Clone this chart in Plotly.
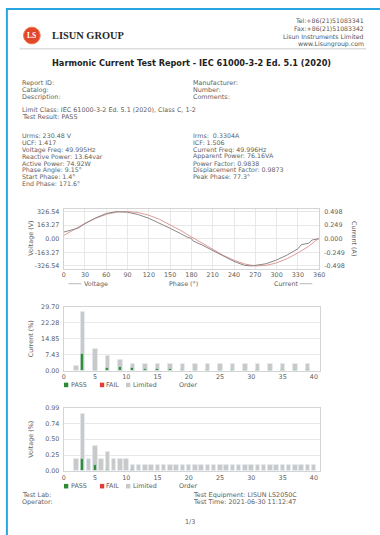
import plotly.graph_objects as go

W, H = 380, 535

# ---------------- report data ----------------
title_text = "Harmonic Current Test Report - IEC 61000-3-2 Ed. 5.1 (2020)"
contact_lines = ["Tel:+86(21)51083341", "Fax:+86(21)51083342",
                 "Lisun Instruments Limited", "www.Lisungroup.com"]
info_left = ["Report ID:", "Catalog:", "Description:"]
info_right = ["Manufacturer:", "Number:", "Comments:"]
limit_lines = ["Limit Class: IEC 61000-3-2 Ed. 5.1 (2020), Class C, 1-2",
               "Test Result: PASS"]
meas_left = ["Urms: 230.48 V", "UCF: 1.417", "Voltage Freq: 49.995Hz",
             "Reactive Power: 13.64var", "Active Power: 74.92W",
             "Phase Angle: 9.15°", "Start Phase: 1.4°", "End Phase: 171.6°"]
meas_right = ["Irms:  0.3304A", "ICF: 1.506", "Current Freq: 49.996Hz",
              "Apparent Power: 76.16VA", "Power Factor: 0.9838",
              "Displacement Factor: 0.9873", "Peak Phase: 77.3°"]
footer_left = ["Test Lab:", "Operator:"]
footer_right = ["Test Equipment: LISUN LS2050C", "Test Time: 2021-06-30 11:12:47"]

# ---------------- waveform (one cycle) ----------------
v_ticks = [-326.54, -163.27, 0.00, 163.27, 326.54]
i_ticks = [-0.498, -0.249, 0.000, 0.249, 0.498]
phase_v = [0, 15, 30, 45, 60, 75, 90, 105, 120, 135, 150, 165, 180,
           195, 210, 225, 240, 255, 270, 285, 300, 315, 330, 345, 360]
voltage_v = [38, 115, 185, 245, 292, 320, 326, 314, 282, 233, 170, 98, 22,
             -55, -130, -200, -258, -303, -326, -320, -290, -238, -170, -92, 10]
phase_i = [0, 10, 15, 20, 30, 45, 60, 75, 90, 105, 120, 135, 150, 165, 175,
           180, 182, 195, 210, 225, 240, 255, 265, 285, 300, 315, 330, 335,
           345, 350, 360]
current_a = [0.122, 0.153, 0.180, 0.191, 0.275, 0.381, 0.462, 0.497, 0.485,
             0.442, 0.374, 0.290, 0.191, 0.092, 0.023, 0.008, -0.038, -0.114,
             -0.214, -0.313, -0.415, -0.488, -0.497, -0.458, -0.389, -0.297,
             -0.183, -0.107, -0.084, -0.023, 0.000]

# ---------------- current harmonics (%) ----------------
cur_orders = [2, 3, 5, 7, 9, 11, 13, 15, 17, 19, 21, 23, 25, 27, 29, 31, 33, 35, 37, 39]
cur_limit = [2.2, 27.4, 10.2, 7.1, 5.2, 3.2, 3.2, 3.2, 3.2, 3.2, 3.2, 3.2,
             3.2, 3.2, 3.2, 3.2, 3.2, 3.2, 3.2, 3.2]
cur_pass = [0.1, 7.9, 0.6, 1.3, 1.7, 1.4, 0.9, 0.8, 0.8, 0.6, 0.5, 0.5,
            0.5, 0.5, 0.5, 0.4, 0.4, 0.4, 0.3, 0.3]
cur_fail = [0] * len(cur_orders)
cur_ticks = [0.00, 7.43, 14.85, 22.28, 29.70]

# ---------------- voltage harmonics (%) ----------------
volt_orders = list(range(2, 41))
volt_limit = [0.2, 0.9, 0.2, 0.4, 0.2, 0.3, 0.2, 0.2, 0.2] + [0.1] * 30
volt_pass = [0.005, 0.19, 0.003, 0.10, 0.003, 0.015, 0.003, 0.012, 0.003,
             0.015, 0.003, 0.012, 0.003, 0.010, 0.003, 0.010, 0.003, 0.010,
             0.003, 0.010, 0.003, 0.012, 0.003, 0.010, 0.003, 0.012, 0.003,
             0.012, 0.003, 0.010, 0.003, 0.010, 0.003, 0.010, 0.003, 0.010,
             0.003, 0.010, 0.003]
volt_fail = [0] * len(volt_orders)
volt_ticks = [0.00, 0.25, 0.50, 0.74, 0.99]

# ---------------- styling ----------------
FONT = "DejaVu Sans"
TXT = "#5e5e5e"
GRID = "#e8e8e8"
FRAME = "#d4d4d4"
C_PASS = "#2f8a35"
C_FAIL = "#e53935"
C_LIM = "#c9c9c9"
C_VOLT = "#dd9a9a"
C_CURR = "#8d8585"


def px(x):
    return x / W


def py(y):
    return 1 - y / H


annotations = []
shapes = []


def text(x, y, s, size=6.4, color=TXT, anchor="left", family=FONT, angle=0):
    annotations.append(dict(
        x=px(x), y=py(y), xref="paper", yref="paper", text=s, showarrow=False,
        xanchor=anchor, yanchor="middle", textangle=angle, borderpad=0,
        font=dict(family=family, size=size, color=color)))


def rect(x0, y0, x1, y1, fill=None, line=None, lw=0):
    shapes.append(dict(type="rect", xref="paper", yref="paper",
                       x0=px(x0), x1=px(x1), y0=py(y0), y1=py(y1),
                       fillcolor=fill, line=dict(color=line, width=lw),
                       layer="above"))


def hline(x0, x1, y, color, lw=1):
    shapes.append(dict(type="line", xref="paper", yref="paper",
                       x0=px(x0), x1=px(x1), y0=py(y), y1=py(y),
                       line=dict(color=color, width=lw)))


# page border and header
shapes.append(dict(type="rect", xref="paper", yref="paper",
                   x0=px(5), y0=py(5), x1=1.1, y1=-0.1,
                   line=dict(color="#27a6e2", width=2), fillcolor="rgba(0,0,0,0)"))
shapes.append(dict(type="circle", xref="paper", yref="paper",
                   x0=px(22), x1=px(39), y0=py(23.5), y1=py(40.5),
                   fillcolor="#e2472a", line=dict(color="#f07a4a", width=1)))
text(30.5, 32, "<b>LS</b>", size=7.5, color="white", anchor="center", family="Liberation Serif")
text(50, 32, "<b>LISUN GROUP</b>", size=10.4, color="#2a2a2a", family="Liberation Serif")
for i, s in enumerate(contact_lines):
    text(371, 17 + i * 8.0, s, size=6.2, color="#555555", anchor="right")
hline(18, 372, 45.5, "#cccccc", 1)
text(194, 59.5, "<b>" + title_text + "</b>", size=8.2, color="#1e1e1e", anchor="center")

for i, s in enumerate(info_left):
    text(19, 80 + i * 7.2, s)
for i, s in enumerate(info_right):
    text(194, 80 + i * 7.2, s)
for i, s in enumerate(limit_lines):
    text(19, 107.7 + i * 6.9, s)
for i, s in enumerate(meas_left):
    text(19, 134 + i * 6.9, s, size=6.3)
for i, s in enumerate(meas_right):
    text(194, 134 + i * 6.9, s, size=6.3)

# waveform axis titles and legend row
text(30, 238, "Voltage (V)", size=6.4, anchor="center", angle=-90)
text(359, 238, "Current (A)", size=6.4, anchor="center", angle=90)
hline(68, 81, 284, "#b9b9b9", 1)
text(83, 284, "Voltage", size=6.4)
text(185, 284, "Phase (°)", size=6.4, anchor="center")
text(277, 284, "Current", size=6.4)
hline(304, 317, 284, "#b9b9b9", 1)

# harmonic chart titles and legend rows
text(30, 340, "Current (%)", size=6.4, anchor="center", angle=-90)
text(30, 442, "Voltage (%)", size=6.4, anchor="center", angle=-90)
for ly in (386.7, 489.5):
    rect(63.3, ly - 2.3, 67.7, ly + 2.3, fill=C_PASS)
    text(69, ly, "PASS", size=6.4)
    rect(100, ly - 2.3, 104.4, ly + 2.3, fill=C_FAIL)
    text(105.7, ly, "FAIL", size=6.4)
    rect(126.7, ly - 2.3, 131.1, ly + 2.3, fill=C_LIM)
    text(132.3, ly, "Limited", size=6.4)
    text(191, ly, "Order", size=6.4, anchor="center")

# footer
for i, s in enumerate(footer_left):
    text(19, 498.3 + i * 7.0, s)
for i, s in enumerate(footer_right):
    text(194, 498.3 + i * 7.0, s)
text(192, 526, "1/3", size=6.4, anchor="center")

fig = go.Figure()

# waveform traces
fig.add_trace(go.Scatter(x=phase_v, y=voltage_v, mode="lines", name="Voltage",
                         line=dict(color=C_VOLT, width=1), xaxis="x", yaxis="y"))
fig.add_trace(go.Scatter(x=phase_i, y=current_a, mode="lines", name="Current",
                         line=dict(color=C_CURR, width=1), xaxis="x", yaxis="y2"))

# current harmonic bars
fig.add_trace(go.Bar(x=cur_orders, y=cur_limit, width=0.72, marker_color=C_LIM,
                     name="Limited", xaxis="x2", yaxis="y3"))
fig.add_trace(go.Bar(x=cur_orders, y=cur_pass, width=0.5, marker_color=C_PASS,
                     name="PASS", xaxis="x2", yaxis="y3"))
fig.add_trace(go.Bar(x=cur_orders, y=cur_fail, width=0.5, marker_color=C_FAIL,
                     name="FAIL", xaxis="x2", yaxis="y3"))

# voltage harmonic bars
fig.add_trace(go.Bar(x=volt_orders, y=volt_limit, width=0.72, marker_color=C_LIM,
                     name="Limited", xaxis="x3", yaxis="y4"))
fig.add_trace(go.Bar(x=volt_orders, y=volt_pass, width=0.5, marker_color=C_PASS,
                     name="PASS", xaxis="x3", yaxis="y4"))
fig.add_trace(go.Bar(x=volt_orders, y=volt_fail, width=0.5, marker_color=C_FAIL,
                     name="FAIL", xaxis="x3", yaxis="y4"))

tickfont = dict(family=FONT, size=6.4, color=TXT)
x_dom = [px(63), px(325)]
common = dict(showline=True, mirror=True, linecolor=FRAME, linewidth=1,
              ticks="", tickfont=tickfont, zeroline=False, fixedrange=True)

fig.update_layout(
    width=W, height=H, autosize=False,
    margin=dict(l=0, r=0, t=0, b=0),
    paper_bgcolor="white", plot_bgcolor="white",
    showlegend=False, barmode="overlay", bargap=0,
    annotations=annotations, shapes=shapes,
    xaxis=dict(domain=[px(63), px(324)], range=[0, 360], tickvals=list(range(0, 361, 30)),
               showgrid=True, gridcolor=GRID, anchor="y", **common),
    yaxis=dict(domain=[py(268.7), py(207.9)], range=[-359.2, 359.2], tickvals=v_ticks,
               ticktext=[f"{v:.2f}" for v in v_ticks], showgrid=True, gridcolor=GRID,
               anchor="x", ticklabelstandoff=2, **common),
    yaxis2=dict(overlaying="y", side="right", anchor="x", range=[-0.5478, 0.5478],
                tickvals=i_ticks, ticktext=[f"{v:.3f}" for v in i_ticks],
                showgrid=False, showline=False, ticks="", tickfont=tickfont,
                ticklabelstandoff=4, zeroline=False, fixedrange=True),
    xaxis2=dict(domain=x_dom, range=[0, 41], tickvals=list(range(0, 41, 5)),
                showgrid=False, anchor="y3", **common),
    yaxis3=dict(domain=[py(372.3), py(307.3)], range=[0, 29.70], tickvals=cur_ticks,
                ticktext=[f"{v:.2f}" for v in cur_ticks], showgrid=True, gridcolor=GRID,
                anchor="x2", ticklabelstandoff=2, **common),
    xaxis3=dict(domain=x_dom, range=[0, 41], tickvals=list(range(0, 41, 5)),
                showgrid=False, anchor="y4", **common),
    yaxis4=dict(domain=[py(474.3), py(410)], range=[0, 0.99], tickvals=volt_ticks,
                ticktext=[f"{v:.2f}" for v in volt_ticks], showgrid=True, gridcolor=GRID,
                anchor="x3", ticklabelstandoff=2, **common),
)

fig.write_html("out.html", config={"displayModeBar": False})
